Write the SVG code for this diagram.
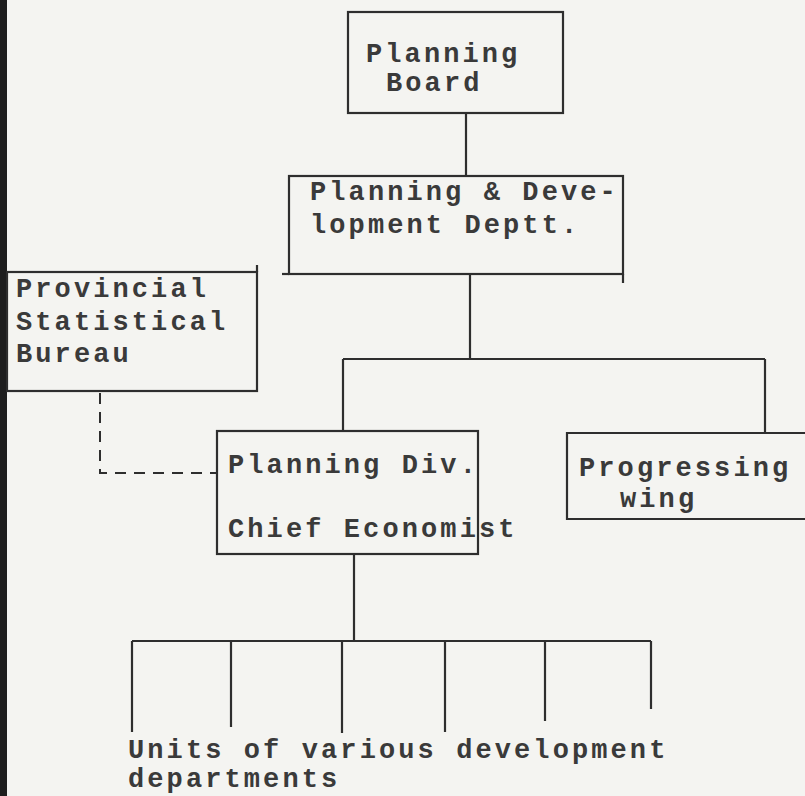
<svg xmlns="http://www.w3.org/2000/svg" width="805" height="796" viewBox="0 0 805 796">
<style>
.bg{fill:#f4f4f1}
.box{fill:none;stroke:#2e2e2e;stroke-width:2.2}
.ln{fill:none;stroke:#2e2e2e;stroke-width:2.2}
.dash{fill:none;stroke:#2e2e2e;stroke-width:2;stroke-dasharray:11 8}
text{font-family:"Liberation Mono","Courier New",monospace;font-weight:bold;font-size:27px;letter-spacing:3.1px;fill:#3a3a3a}
</style>
<rect class="bg" x="0" y="0" width="805" height="796"/>
<rect x="0" y="0" width="7" height="796" fill="#1e1e1e"/>
<g id="connectors">
<line class="ln" x1="466" y1="113" x2="466" y2="176"/>
<line class="ln" x1="470" y1="274" x2="470" y2="359"/>
<line class="ln" x1="343" y1="359" x2="765" y2="359"/>
<line class="ln" x1="343" y1="359" x2="343" y2="431"/>
<line class="ln" x1="765" y1="359" x2="765" y2="433"/>
<line class="ln" x1="354" y1="554" x2="354" y2="641"/>
<line class="ln" x1="132" y1="641" x2="651" y2="641"/>
<line class="ln" x1="132" y1="641" x2="132" y2="732"/>
<line class="ln" x1="231" y1="641" x2="231" y2="727"/>
<line class="ln" x1="342" y1="641" x2="342" y2="733"/>
<line class="ln" x1="445" y1="641" x2="445" y2="732"/>
<line class="ln" x1="545" y1="641" x2="545" y2="721"/>
<line class="ln" x1="651" y1="641" x2="651" y2="709"/>
<path class="dash" d="M100,393 V473 H217"/>
</g>
<g id="planning-board">
<rect class="box" x="348" y="12" width="215" height="101"/>
<text x="366" y="62">Planning</text>
<text x="386" y="91">Board</text>
</g>
<g id="pd-deptt">
<rect class="box" x="289" y="176" width="334" height="98"/>
<line class="ln" x1="623" y1="274" x2="623" y2="283"/>
<line class="ln" x1="282" y1="274" x2="289" y2="274"/>
<text x="310" y="200">Planning &amp; Deve-</text>
<text x="310" y="233">lopment Deptt.</text>
</g>
<g id="provincial-bureau">
<rect class="box" x="7" y="272" width="250" height="119"/>
<line class="ln" x1="257" y1="265" x2="257" y2="272"/>
<text x="16" y="297">Provincial</text>
<text x="16" y="330">Statistical</text>
<text x="16" y="362">Bureau</text>
</g>
<g id="planning-div">
<rect class="box" x="217" y="431" width="261" height="123"/>
<text x="228" y="473">Planning Div.</text>
<text x="228" y="537">Chief Economist</text>
</g>
<g id="progressing-wing">
<path class="box" d="M810,433 H567 V519 H810"/>
<text x="579" y="476">Progressing</text>
<text x="620" y="507">wing</text>
</g>
<g id="units">
<text x="128" y="758">Units of various development</text>
<text x="128" y="787">departments</text>
</g>
</svg>
